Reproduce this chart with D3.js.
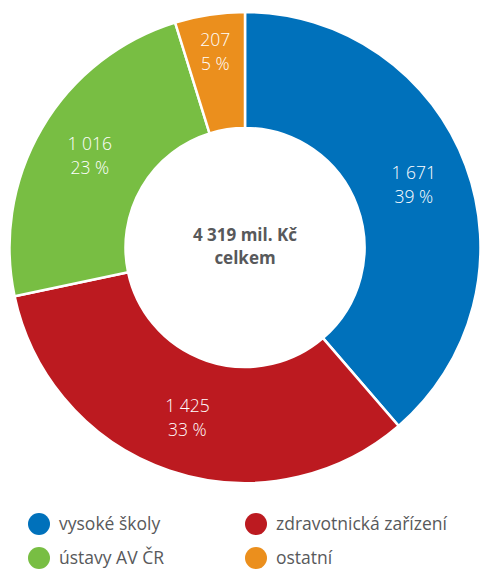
<!DOCTYPE html>
<html>
<head>
<meta charset="utf-8">
<title>Donut</title>
<script src="https://cdnjs.cloudflare.com/ajax/libs/d3/7.8.5/d3.min.js"></script>
<style>
  body { margin: 0; background: #fff; }
  text { font-family: "Open Sans", "Noto Sans", sans-serif; }
</style>
</head>
<body>
<div id="chart"></div>
<script>
// data
var categories = ["vysoké školy", "zdravotnická zařízení", "ústavy AV ČR", "ostatní"];
var values = [1671, 1425, 1016, 207];
var valueLabels = ["1 671", "1 425", "1 016", "207"];
var percentLabels = ["39 %", "33 %", "23 %", "5 %"];
var colors = ["#0071bb", "#bc1a20", "#78be43", "#eb8f1d"];
var centerLines = ["4 319 mil. Kč", "celkem"];

var width = 480, height = 569;
var cx = 245, cy = 247.5;
var outerR = 235.5, innerR = 119.5;

var svg = d3.select("#chart").append("svg")
    .attr("width", width)
    .attr("height", height);

var data = values.map(function(v, i) {
    return { name: categories[i], value: v, vlab: valueLabels[i], plab: percentLabels[i], color: colors[i] };
});

var pie = d3.pie().sort(null).value(function(d) { return d.value; });
var arc = d3.arc().innerRadius(innerR).outerRadius(outerR);

var g = svg.append("g").attr("transform", "translate(" + cx + "," + cy + ")");

var arcs = pie(data);

g.selectAll("path.slice")
    .data(arcs)
    .enter().append("path")
    .attr("class", "slice")
    .attr("d", arc)
    .style("fill", function(d) { return d.data.color; })
    .style("stroke", "#fff")
    .style("stroke-width", 2.5);

// labels - small slices get pushed outward a bit
function labelPos(d) {
    var a = (d.startAngle + d.endAngle) / 2;
    var share = (d.endAngle - d.startAngle) / (2 * Math.PI);
    var r = share < 0.1 ? 198 : 180;
    return [Math.sin(a) * r, -Math.cos(a) * r];
}

var lab = g.selectAll("text.lab")
    .data(arcs)
    .enter().append("text")
    .attr("class", "lab")
    .attr("text-anchor", "middle")
    .attr("transform", function(d) { var p = labelPos(d); return "translate(" + p[0] + "," + p[1] + ")"; })
    .style("fill", "#fff")
    .style("font-size", "17.5px")
    .style("font-weight", 300);

lab.append("tspan").attr("x", 0).attr("y", -6).text(function(d) { return d.data.vlab; });
lab.append("tspan").attr("x", 0).attr("y", 18).text(function(d) { return d.data.plab; });

// center text
g.selectAll("text.center")
    .data(centerLines)
    .enter().append("text")
    .attr("class", "center")
    .attr("text-anchor", "middle")
    .attr("y", function(d, i) { return -7 + i * 23; })
    .style("fill", "#58595b")
    .style("font-size", "17px")
    .style("font-weight", 700)
    .text(function(d) { return d; });

// legend
var legend = svg.append("g").attr("class", "legend");
var item = legend.selectAll("g")
    .data(data)
    .enter().append("g")
    .attr("transform", function(d, i) {
        var col = i % 2, row = Math.floor(i / 2);
        return "translate(" + (39 + col * 217) + "," + (524 + row * 34) + ")";
    });

item.append("circle")
    .attr("r", 11)
    .style("fill", function(d) { return d.color; });

item.append("text")
    .attr("x", 20)
    .attr("y", 6)
    .style("fill", "#58595b")
    .style("font-size", "17.5px")
    .text(function(d) { return d.name; });
</script>
</body>
</html>
